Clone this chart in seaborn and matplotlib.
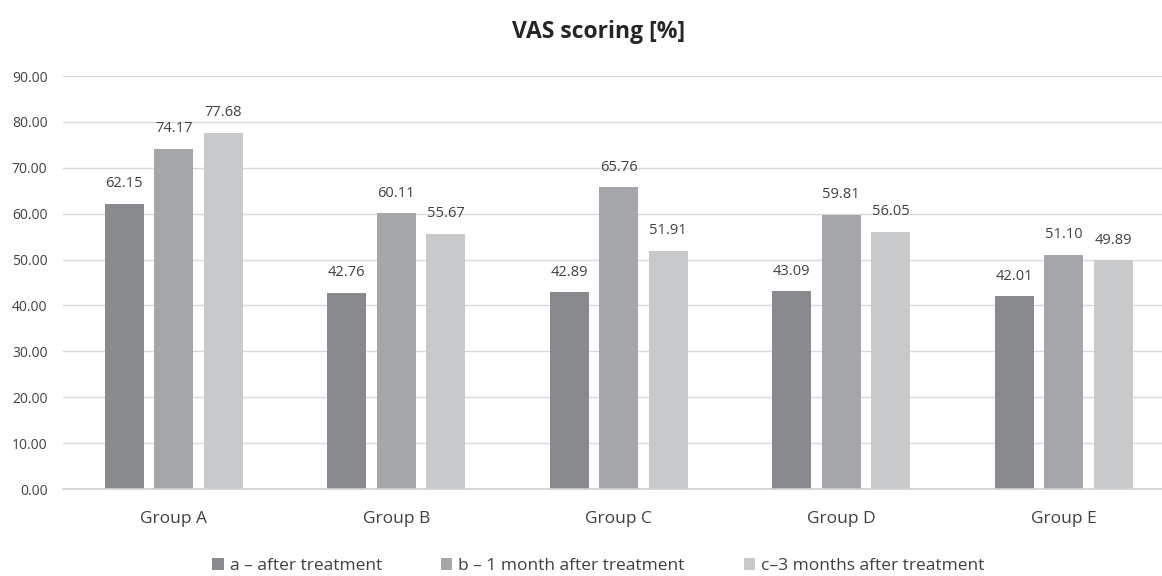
import matplotlib
matplotlib.use("Agg")
import matplotlib.pyplot as plt
import seaborn as sns
import pandas as pd
from matplotlib.patches import Patch

groups = ["Group A", "Group B", "Group C", "Group D", "Group E"]
series = ["a – after treatment", "b – 1 month after treatment", "c–3 months after treatment"]
after_treatment = [62.15, 42.76, 42.89, 43.09, 42.01]
one_month = [74.17, 60.11, 65.76, 59.81, 51.10]
three_months = [77.68, 55.67, 51.91, 56.05, 49.89]
yticks = [0, 10, 20, 30, 40, 50, 60, 70, 80, 90]

colors = ["#898a8e", "#a5a6a9", "#c8c9cb"]

df = pd.DataFrame({
    "group": groups * 3,
    "series": [series[0]] * 5 + [series[1]] * 5 + [series[2]] * 5,
    "value": after_treatment + one_month + three_months,
})

sns.set_theme(style="white")
plt.rcParams["font.family"] = ["Open Sans", "DejaVu Sans"]

fig = plt.figure(figsize=(11.62, 5.76), dpi=100)
# plot area runs slightly past the right edge of the canvas
ax = fig.add_axes([0.054, 0.151, 0.957, 0.717])

sns.barplot(data=df, x="group", y="value", hue="series", palette=colors,
            width=0.668, gap=0.212, saturation=1, legend=False, ax=ax,
            edgecolor="none", linewidth=0)

for cont in ax.containers:
    ax.bar_label(cont, fmt="%.2f", padding=9, fontsize=10.5, color="#404040")

ax.set_ylim(0, 90)
ax.set_xlim(-0.5, 4.5)
ax.set_yticks(yticks)
ax.set_yticklabels([f"{v:.2f}" for v in yticks], fontsize=10, color="#404040")
ax.tick_params(axis="x", labelsize=12.5, labelcolor="#404040", length=0, pad=16)
ax.tick_params(axis="y", length=0, pad=11)
ax.set_xlabel("")
ax.set_ylabel("")
ax.yaxis.grid(True, color="#d9d9d9", linewidth=1)
ax.set_axisbelow(True)
for s in ["top", "right", "left"]:
    ax.spines[s].set_visible(False)
ax.spines["bottom"].set_color("#d0d0d0")
ax.spines["bottom"].set_linewidth(1.2)

fig.text(0.515, 0.945, "VAS scoring [%]", ha="center", va="center",
         fontsize=16.5, fontweight="bold", color="#262626")

handles = [Patch(facecolor=c, edgecolor="none") for c in colors]
fig.legend(handles, series, loc="center", bbox_to_anchor=(0.515, 0.017),
           ncol=3, frameon=False, fontsize=12.5, handlelength=0.65, handleheight=0.65,
           columnspacing=3.4, handletextpad=0.35, labelcolor="#404040")

fig.savefig("out.png", dpi=100)
